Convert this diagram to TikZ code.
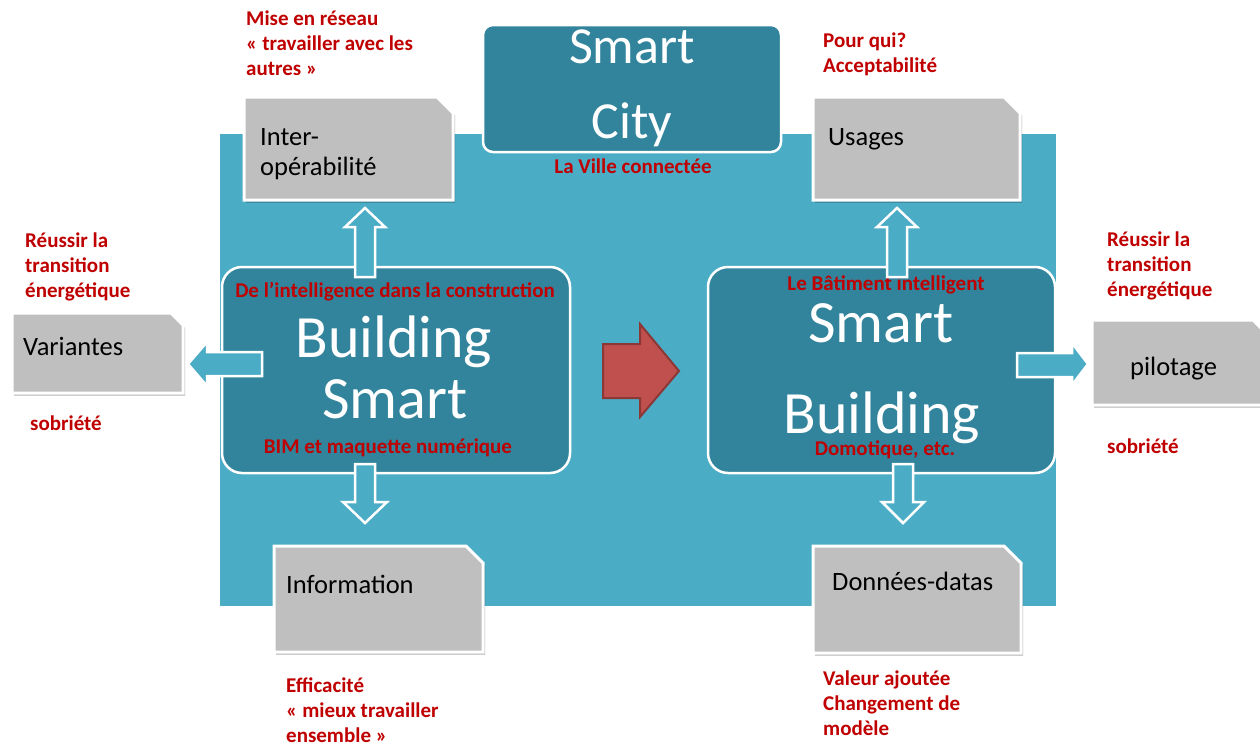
\documentclass[tikz,border=0pt]{standalone}
\usepackage{fontspec}
\setmainfont{Carlito}
\usetikzlibrary{shadows}
\definecolor{bgteal}{HTML}{4BACC6}
\definecolor{darkteal}{HTML}{31849B}
\definecolor{docgrey}{HTML}{BFBFBF}
\definecolor{redtxt}{HTML}{C00000}
\definecolor{redfill}{HTML}{C0504D}
\definecolor{redline}{HTML}{8C3836}
\tikzset{
  doc/.style={fill=docgrey, draw=white, line width=3pt, line join=miter,
    drop shadow={shadow xshift=2pt, shadow yshift=-2.5pt, opacity=0.3, fill=black}},
  hollow/.style={fill=bgteal, draw=white, line width=2.5pt, line join=miter},
  bigbox/.style={fill=darkteal, draw=white, line width=2.5pt},
  redlab/.style={text=redtxt, font=\fontsize{21}{24.7}\selectfont\bfseries, inner sep=0pt, align=left, anchor=base west},
  redin/.style={text=redtxt, font=\fontsize{21}{25}\selectfont\bfseries, inner sep=0pt, anchor=base},
  doctext/.style={text=black, font=\fontsize{26.5}{30}\selectfont, inner sep=0pt, anchor=base west, align=left},
  bigtext/.style={text=white, font=\fontsize{60}{70}\selectfont, inner sep=0pt, anchor=base},
  citytext/.style={text=white, font=\fontsize{52}{60}\selectfont, inner sep=0pt, anchor=base},
}
\newcommand\docshape[5]{%
  \path[doc] (#1,#2) -- ({#3-#5},#2) -- (#3,{#2+#5}) -- (#3,#4) -- (#1,#4) -- cycle;}
\begin{document}
\begin{tikzpicture}[x={(1pt,0pt)}, y={(0pt,-1pt)}]
\useasboundingbox (0,0) rectangle (1260,744);
\clip (0,0) rectangle (1260,744);
\fill[white] (0,0) rectangle (1260,744);
% background
\fill[bgteal] (220,134) rectangle (1056,606);
% big boxes
\path[bigbox, rounded corners=10pt] (483,25) rectangle (781,152);
\node[citytext] (smart1) at (632,63) {Smart};
\node[citytext] (city) at (632,138) {City};
\node[redin] (ville) at (633,173) {La Ville connectée};

\path[bigbox, rounded corners=20pt] (222,267) rectangle (570,473);
\node[bigtext] (bs1) at (394,357) {Building};
\node[bigtext] (bs2) at (395,418) {Smart};
\node[redin] (intel) at (395,297) {De l’intelligence dans la construction};
\node[redin] (bim) at (388,453) {BIM et maquette numérique};

\path[bigbox, rounded corners=20pt] (708,267) rectangle (1055,473);
\node[bigtext] (sb1) at (881,342) {Smart};
\node[bigtext] (sb2) at (882,433) {Building};
\node[redin] (batint) at (886,290) {Le Bâtiment intelligent};
\node[redin] (domo) at (885,455) {Domotique, etc.};

% red arrow
\path[fill=redfill, draw=redline, line width=2pt, line join=miter]
  (603,344) -- (640,344) -- (640,324) -- (679,371) -- (640,417) -- (640,398) -- (603,398) -- cycle;

% hollow arrows
\path[hollow] (365,208) -- (385,227) -- (375,227) -- (375,277) -- (355,277) -- (355,227) -- (345,227) -- cycle;
\path[hollow] (897,208) -- (917,227) -- (907,227) -- (907,277) -- (887,277) -- (887,227) -- (877,227) -- cycle;
\path[hollow] (355,464) -- (375,464) -- (375,502) -- (387,502) -- (365,523) -- (343,502) -- (355,502) -- cycle;
\path[hollow] (893,464) -- (913,464) -- (913,502) -- (924,502) -- (903,523) -- (882,502) -- (893,502) -- cycle;
\path[hollow] (262,352) -- (262,376) -- (207,376) -- (207,386) -- (188,364) -- (207,342) -- (207,352) -- cycle;
\path[hollow] (1017,353) -- (1072,353) -- (1072,343) -- (1088,364) -- (1072,385) -- (1072,377) -- (1017,377) -- cycle;

% document boxes
\docshape{244}{97}{453}{200}{16}
\node[doctext] (interop) at (260,175) {Inter-\\opérabilité};
\docshape{813}{97}{1020}{200}{16}
\node[doctext] (usages) at (828,145) {Usages};
\docshape{12}{313}{183}{393}{12}
\node[doctext] (variantes) at (23,355) {Variantes};
\docshape{1092}{320}{1267}{405}{14}
\node[doctext] (pilotage) at (1130,375) {pilotage};
\docshape{274}{546}{483}{652}{17}
\node[doctext] (information) at (286,593) {Information};
\docshape{813}{546}{1021}{653}{17}
\node[doctext] (donnees) at (832,590) {Données-datas};

% red outer labels (anchor at last line's baseline)
\node[redlab] (reseau) at (246,75) {Mise en réseau\\« travailler avec les\\autres »};
\node[redlab] (pourqui) at (823,72) {Pour qui?\\Acceptabilité};
\node[redlab] (reussirL) at (25,297) {Réussir la\\transition\\énergétique};
\node[redlab] (sobrL) at (30,430) {sobriété};
\node[redlab] (reussirR) at (1107,296) {Réussir la\\transition\\énergétique};
\node[redlab] (sobrR) at (1107,453) {sobriété};
\node[redlab] (effic) at (286,742) {Efficacité\\« mieux travailler\\ensemble »};
\node[redlab] (valeur) at (823,735) {Valeur ajoutée\\Changement de\\modèle};
\end{tikzpicture}
\end{document}
